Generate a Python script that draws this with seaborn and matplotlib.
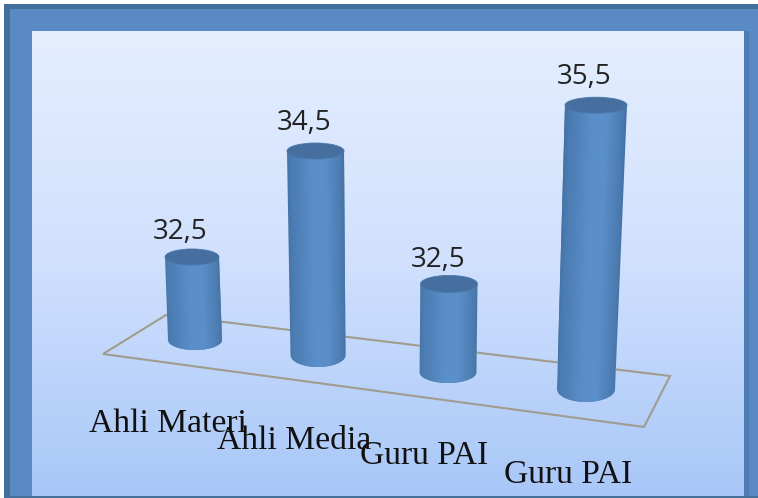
import numpy as np
import pandas as pd
import matplotlib
matplotlib.use("Agg")
import matplotlib.pyplot as plt
from matplotlib.colors import LinearSegmentedColormap
from matplotlib.patches import Ellipse, Polygon, Rectangle
from matplotlib.path import Path
from matplotlib.transforms import Affine2D
import seaborn as sns

# Chart values
categories = ["Ahli Materi", "Ahli Media", "Guru PAI", "Guru PAI"]
scores = [32.5, 34.5, 32.5, 35.5]

# Perspective layout of each cylinder, in pixels
W, H = 758, 498
base_x = [195, 318, 448, 586]
base_y = [340, 355, 372, 389]
base_w = [54, 55, 57, 58]
top_w = [54, 57, 57, 62]
lean_px = [-3, -2.5, 1, 10]
px_per_unit = [59.3, 60.0, 62.9, 64.5]
top_ry = [8, 8, 8.5, 8]
bottom_ry = [10, 12, 11, 13]
value_offset = [(-12, 25), (-11.5, 28), (-10.7, 24), (-12, 28)]
label_pos = [(89, 432), (217, 449), (360, 464), (504, 483)]
AXIS_FLOOR = 31.1

sns.set_theme(style="white")
fig = plt.figure(figsize=(W / 100, H / 100), dpi=100, facecolor="white")

# Backdrop: framed panel with a vertical gradient, and the floor of the plot
bg = fig.add_axes([0, 0, 1, 1])
bg.set_xlim(0, W)
bg.set_ylim(H, 0)
bg.axis("off")
bg.add_patch(Rectangle((4, 4), W - 4, H - 4, fc="#456f9b", ec="none"))
bg.add_patch(Rectangle((10, 9), W - 10, H - 11, fc="#5a8ac4", ec="none"))
bg.add_patch(Rectangle((744, 31), 5, H - 33, fc="#4f7cb4", ec="none"))
panel = LinearSegmentedColormap.from_list("panel", ["#e4eeff", "#d0e0fd", "#a8c7f8"])
bg.imshow(np.linspace(0, 1, 256).reshape(-1, 1), cmap=panel, aspect="auto",
          extent=(32, 744, 496, 31), zorder=2)
bg.set_xlim(0, W)
bg.set_ylim(H, 0)
bg.add_patch(Polygon([(103, 354), (166, 315), (670, 376), (644, 427)], closed=True,
                     fc="none", ec="#a09c8e", lw=1.5, zorder=3))

metal = LinearSegmentedColormap.from_list(
    "metal", [(0, "#3f6a9b"), (0.12, "#4a7bb1"), (0.45, "#5b8fc9"), (0.65, "#5b8fc9"),
              (0.88, "#4a7aaf"), (1, "#3b6493")])


def half_arc(cx, cy, rx, ry, start, stop):
    t = np.linspace(start, stop, 60)
    return np.column_stack([cx + rx * np.cos(t), cy + ry * np.sin(t)])


# One axes per cylinder, since each sits at its own depth
for i, (cat, val) in enumerate(zip(categories, scores)):
    span_px = 310
    ax = fig.add_axes([(base_x[i] - base_w[i] / 2) / W, (H - base_y[i]) / H,
                       base_w[i] / W, span_px / H])
    frame = pd.DataFrame({"group": [cat], "score": [val]})
    sns.barplot(data=frame, x="group", y="score", color="#4a7bb2", width=1, ax=ax)
    ylim = (AXIS_FLOOR, AXIS_FLOOR + span_px / px_per_unit[i])
    ax.set_xlim(-0.5, 0.5)
    ax.set_ylim(*ylim)
    ax.axis("off")

    bar = ax.patches[0]
    height = bar.get_height()
    top_x = lean_px[i] / base_w[i]
    top_rx = 0.5 * top_w[i] / base_w[i]
    ry_top = top_ry[i] / px_per_unit[i]
    ry_bot = bottom_ry[i] / px_per_unit[i]

    # Body outline: tapered sides with a rounded lower edge
    outline = np.vstack([
        [[top_x - top_rx, height]],
        half_arc(0, AXIS_FLOOR, 0.5, ry_bot, np.pi, 2 * np.pi),
        [[top_x + top_rx, height]],
    ])
    body = Path(np.vstack([outline, outline[0]]), closed=True)
    bar.set_clip_box(fig.bbox)
    bar.set_clip_path(body, ax.transData)

    # Horizontal shading, sheared so it follows the lean of the body
    shear = top_x / (height - AXIS_FLOOR)
    img = ax.imshow(np.linspace(0, 1, 256).reshape(1, -1), cmap=metal, aspect="auto",
                    extent=(-0.6, 0.6, AXIS_FLOOR - 1, height + 1), zorder=4)
    img.set_transform(
        Affine2D.from_values(1, 0, shear, 1, -shear * AXIS_FLOOR, 0) + ax.transData)
    img.set_clip_box(fig.bbox)
    img.set_clip_path(body, ax.transData)
    ax.set_xlim(-0.5, 0.5)
    ax.set_ylim(*ylim)

    ax.add_patch(Ellipse((top_x, height), 2 * top_rx, 2 * ry_top, fc="#466f9f",
                         ec="#4b78aa", lw=0.6, clip_on=False, zorder=5))

    dx, dy = value_offset[i]
    ax.annotate(f"{val:.1f}".replace(".", ","), xy=(top_x, height),
                xytext=(dx, dy), textcoords="offset pixels", ha="center", va="center",
                fontsize=20, color="#222222", family="Open Sans",
                annotation_clip=False, zorder=6)

# Category labels stay on top of the floor and the cylinders
overlay = fig.add_axes([0, 0, 1, 1])
overlay.set_xlim(0, W)
overlay.set_ylim(H, 0)
overlay.axis("off")
for cat, (x, y) in zip(categories, label_pos):
    overlay.text(x, y, cat, fontsize=24.2, family="Liberation Serif", color="#111111",
                 ha="left", va="baseline")

fig.savefig("out.png", dpi=100, facecolor="white")
